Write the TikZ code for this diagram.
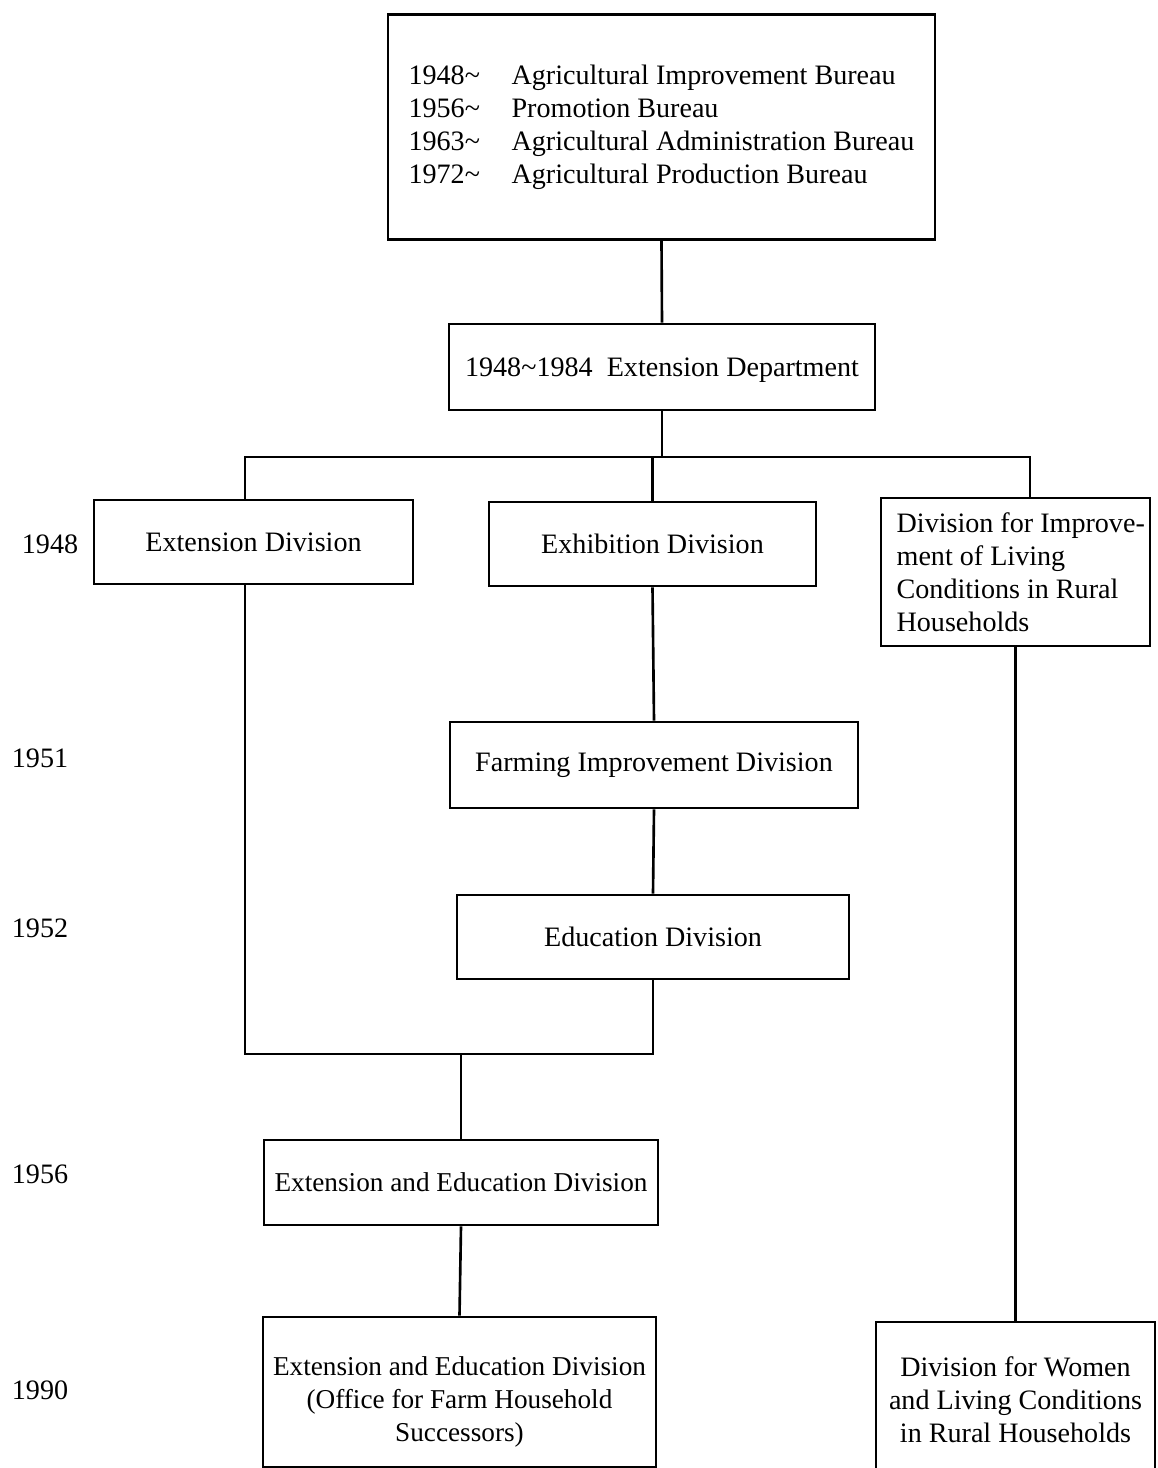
\documentclass[tikz,border=0pt]{standalone}
\usepackage{fontspec}
\setmainfont{Liberation Serif}
\usetikzlibrary{positioning}

\begin{document}
\begin{tikzpicture}[x=0.02cm, y=-0.02cm, line width=1.5pt,
    box/.style={draw, inner sep=0pt, align=center, font=\fontsize{16}{18.8}\selectfont},
    yearlab/.style={font=\fontsize{16}{18.8}\selectfont}]
    \useasboundingbox (0,0) rectangle (1157,1468);
    % boxes
    \node[box, minimum width=10.94cm, minimum height=4.5cm] (bureau) at (661.5,127)
        {\begin{tabular}{@{}l@{\hspace{18pt}}l@{}}
         1948\textasciitilde & Agricultural Improvement Bureau\\
         1956\textasciitilde & Promotion Bureau\\
         1963\textasciitilde & Agricultural Administration Bureau\\
         1972\textasciitilde & Agricultural Production Bureau
         \end{tabular}};
    \node[box, minimum width=8.52cm, minimum height=1.72cm, text height=14pt] (dept) at (662,367)
        {1948\textasciitilde 1984\enspace Extension Department};
    \node[box, minimum width=6.38cm, minimum height=1.68cm] (ext) at (253.5,542) {Extension Division};
    \node[box, minimum width=6.54cm, minimum height=1.68cm] (exh) at (652.5,544) {Exhibition Division};
    \node[box, minimum width=5.38cm, minimum height=2.96cm, align=left] (imp) at (1015.5,572)
        {\hspace*{6pt}Division for Improve-\\\hspace*{6pt}ment of Living\\\hspace*{6pt}Conditions in Rural\\\hspace*{6pt}Households};
    \node[box, minimum width=8.16cm, minimum height=1.72cm] (farm) at (654,765) {Farming Improvement Division};
    \node[box, minimum width=7.84cm, minimum height=1.68cm] (edu) at (653,937) {Education Division};
    \node[box, minimum width=7.88cm, minimum height=1.7cm, font=\fontsize{15.5}{18.8}\selectfont] (ee) at (461,1182.5)
        {Extension and Education Division};
    \node[box, minimum width=7.86cm, minimum height=3.0cm, font=\fontsize{15.5}{18.8}\selectfont] (eeo) at (459.5,1392)
        {\rule{0pt}{22pt}Extension and Education Division\\(Office for Farm Household\\Successors)};
    \node[box, minimum width=5.58cm, minimum height=3.12cm] (wom) at (1015.5,1400)
        {Division for Women\\and Living Conditions\\in Rural Households};
    % years
    \node[yearlab] (y48) at (50,544) {1948};
    \node[yearlab] (y51) at (40,758) {1951};
    \node[yearlab] (y52) at (40,928) {1952};
    \node[yearlab] (y56) at (40,1174) {1956};
    \node[yearlab] (y90) at (40,1390) {1990};
    % connectors
    \coordinate (busL) at (245,457);
    \coordinate (busR) at (1030,457);
    \coordinate (merge) at (461,1054);
    \draw (bureau.south) -- (dept.north);
    \draw (dept.south) -- (dept.south |- busL);
    \draw (ext.north -| busL) -- (busL) -- (busR) -- (busR |- imp.north);
    \draw (exh.north |- busL) -- (exh.north);
    \draw (exh.south) -- (farm.north);
    \draw (farm.south) -- (edu.north);
    \draw (ext.south -| busL) -- (busL |- merge) -- (edu.south |- merge) -- (edu.south);
    \draw (merge) -- (ee.north);
    \draw (ee.south) -- (eeo.north);
    \draw (imp.south) -- (wom.north);
\end{tikzpicture}
\end{document}
